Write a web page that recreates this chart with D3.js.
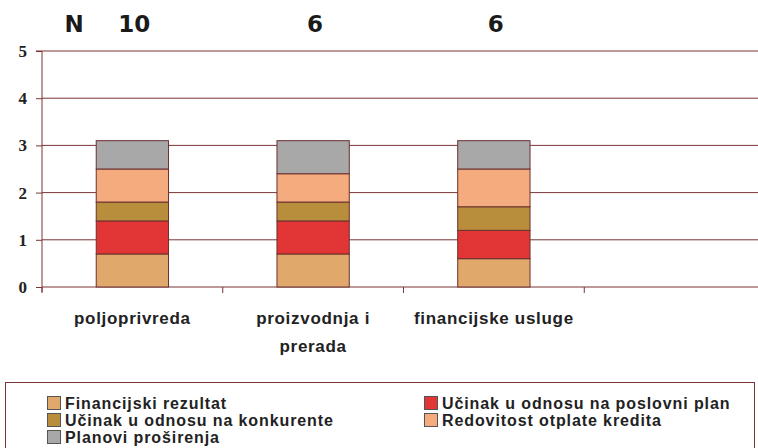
<!DOCTYPE html>
<html>
<head>
<meta charset="utf-8">
<script src="https://cdn.jsdelivr.net/npm/d3@7"></script>
<style>
  body { margin: 0; background: #fff; }
  svg { display: block; }
</style>
</head>
<body>
<div class="chart"></div>
<script>
// categories (last band is empty, like the source)
const categories = ['poljoprivreda', 'proizvodnja i prerada', 'financijske usluge', ''];
const catLines = [['poljoprivreda'], ['proizvodnja i', 'prerada'], ['financijske usluge'], []];
const nValues = [10, 6, 6];

const seriesNames = ['Financijski rezultat', 'Učinak u odnosu na poslovni plan', 'Učinak u odnosu na konkurente', 'Redovitost otplate kredita', 'Planovi proširenja'];
const finRez   = [0.7, 0.7, 0.6];
const plan     = [0.7, 0.7, 0.6];
const konk     = [0.4, 0.4, 0.5];
const kredit   = [0.7, 0.6, 0.8];
const planovi  = [0.6, 0.7, 0.6];
const seriesColors = ['#e0a86a', '#e23535', '#b88d3c', '#f4ab7e', '#a8a8a9'];
const yTicks = [0, 1, 2, 3, 4, 5];

const width = 758, height = 448;
const margin = {left: 42, top: 51, bottom: 161};
const axisColor = '#7a3535';

const svg = d3.select('.chart').append('svg')
    .attr('width', width)
    .attr('height', height);

const x = d3.scaleBand().domain(categories).range([margin.left, 765]);
const y = d3.scaleLinear().domain([0, 5]).range([height - margin.bottom, margin.top]);

// grid lines
svg.append('g').selectAll('line')
    .data(yTicks)
    .enter().append('line')
    .attr('x1', margin.left).attr('x2', width)
    .attr('y1', d => y(d)).attr('y2', d => y(d))
    .attr('stroke', axisColor).attr('stroke-width', 1);

// y axis
const yAxis = d3.axisLeft(y).tickValues(yTicks).tickSize(6).tickPadding(9).tickFormat(d3.format('d'));
const gy = svg.append('g')
    .attr('transform', 'translate(' + margin.left + ',0)')
    .call(yAxis);
gy.select('.domain').attr('stroke', axisColor).attr('d', 'M-6,' + y(5) + 'H0V' + (y(0) + 5));
gy.selectAll('.tick line').attr('stroke', axisColor);
gy.selectAll('.tick text')
    .style('font-family', '"Liberation Serif", "Times New Roman", serif')
    .style('font-weight', 'bold')
    .style('font-size', '17px')
    .attr('fill', '#222');

// x axis ticks between categories
const gx = svg.append('g');
gx.selectAll('line')
    .data(categories)
    .enter().append('line')
    .attr('x1', d => x(d)).attr('x2', d => x(d))
    .attr('y1', y(0)).attr('y2', y(0) + 6)
    .attr('stroke', axisColor);

// stacked bars
const rows = categories.slice(0, 3).map((c, i) => ({
    cat: c, v0: finRez[i], v1: plan[i], v2: konk[i], v3: kredit[i], v4: planovi[i]
}));
const stack = d3.stack().keys(['v0', 'v1', 'v2', 'v3', 'v4']);
const layers = stack(rows);
const barW = x.bandwidth() * 0.4;

svg.append('g').selectAll('g')
    .data(layers)
    .enter().append('g')
    .attr('fill', (d, i) => seriesColors[i])
    .selectAll('rect')
    .data(d => d)
    .enter().append('rect')
    .attr('x', d => x(d.data.cat) + x.bandwidth() / 2 - barW / 2)
    .attr('width', barW)
    .attr('y', d => y(d[1]))
    .attr('height', d => y(d[0]) - y(d[1]))
    .attr('stroke', '#6b2f2f')
    .attr('stroke-width', 1);

// category labels
const labFont = '"Liberation Sans", Arial, sans-serif';
catLines.forEach((lines, i) => {
    lines.forEach((t, j) => {
        svg.append('text')
            .attr('x', x(categories[i]) + x.bandwidth() / 2)
            .attr('y', 324 + j * 28)
            .attr('text-anchor', 'middle')
            .style('font-family', labFont)
            .style('font-weight', 'bold')
            .style('font-size', '17px')
            .style('letter-spacing', '0.7px')
            .attr('fill', '#222')
            .text(t);
    });
});

// N labels
const nFont = '"DejaVu Sans", sans-serif';
svg.append('text')
    .attr('x', 74).attr('y', 32)
    .attr('text-anchor', 'middle')
    .style('font-family', nFont).style('font-weight', 'bold').style('font-size', '23px')
    .attr('fill', '#1a1a1a')
    .text('N');
nValues.forEach((n, i) => {
    svg.append('text')
        .attr('x', x(categories[i]) + x.bandwidth() / 2 + 2)
        .attr('y', 32)
        .attr('text-anchor', 'middle')
        .style('font-family', nFont).style('font-weight', 'bold').style('font-size', '23px')
        .attr('fill', '#1a1a1a')
        .text(n);
});

// legend
svg.append('rect')
    .attr('x', 5.5).attr('y', 382.5)
    .attr('width', 749).attr('height', 80)
    .attr('fill', 'none').attr('stroke', axisColor);

const legPos = [[47, 396], [424, 396], [47, 413], [424, 413], [47, 430]];
const leg = svg.append('g').selectAll('g')
    .data(seriesNames)
    .enter().append('g')
    .attr('transform', (d, i) => 'translate(' + legPos[i][0] + ',' + legPos[i][1] + ')');
leg.append('rect')
    .attr('x', 0.5).attr('y', 0.5)
    .attr('width', 13).attr('height', 13)
    .attr('fill', (d, i) => seriesColors[i])
    .attr('stroke', '#555');
leg.append('text')
    .attr('x', 18).attr('y', 13)
    .style('font-family', labFont)
    .style('font-weight', 'bold')
    .style('font-size', '16px')
    .style('letter-spacing', '0.9px')
    .attr('fill', '#222')
    .text(d => d);
</script>
</body>
</html>
